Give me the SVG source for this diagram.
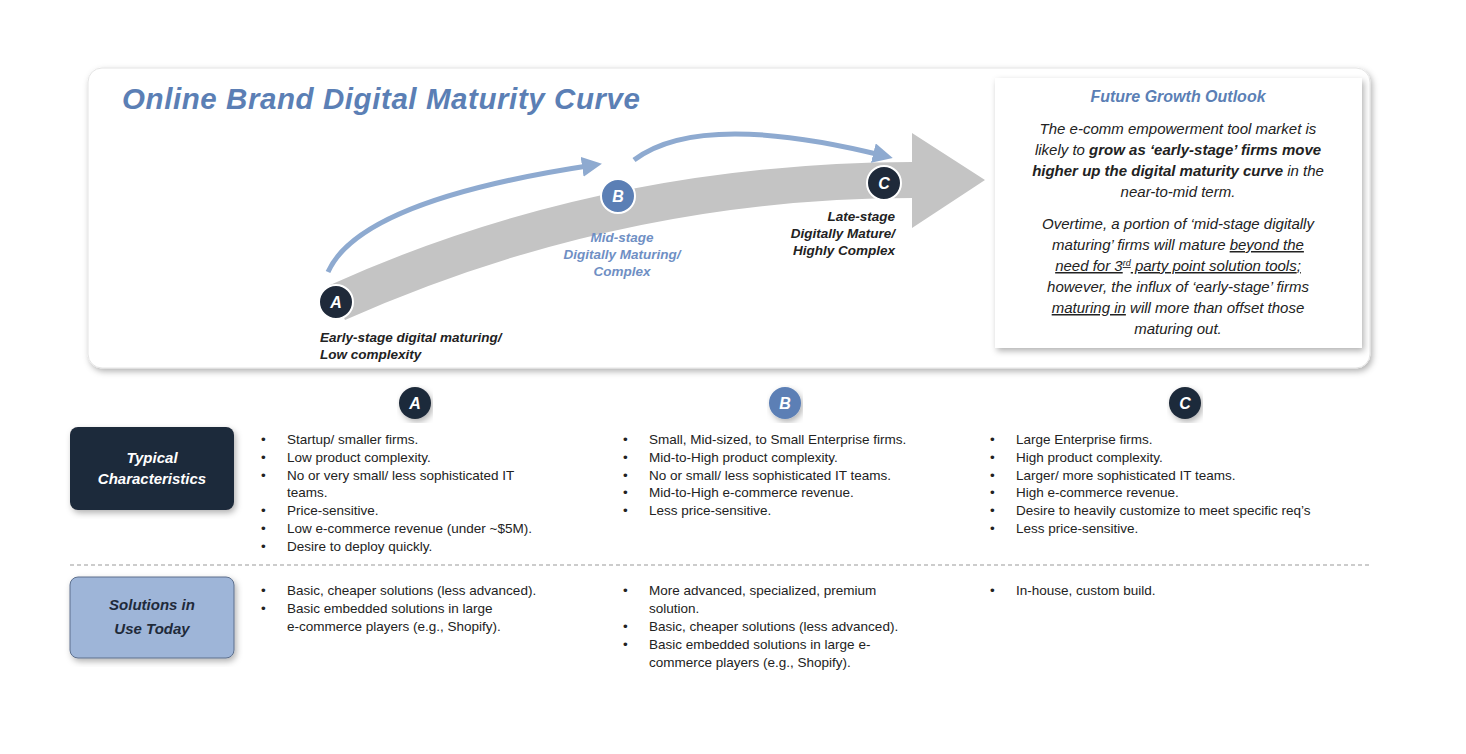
<svg xmlns="http://www.w3.org/2000/svg" width="1466" height="754" viewBox="0 0 1466 754">
<defs>
<filter id="sh" x="-5%" y="-5%" width="110%" height="115%"><feDropShadow dx="2" dy="3" stdDeviation="3" flood-color="#000" flood-opacity="0.3"/></filter>
<marker id="ah" viewBox="0 0 10 10" refX="6" refY="5" markerWidth="4" markerHeight="4" orient="auto"><path d="M0,0 L10,5 L0,10 z" fill="#8eaad0"/></marker>
<style>
text{font-family:"Liberation Sans",Arial,sans-serif}
.t{font-size:13.5px;fill:#222}
.it{font-style:italic;font-weight:bold;font-size:13.5px}
.circ{stroke:#fff;stroke-width:2}
.cl{font-size:16px;font-weight:bold;font-style:italic;fill:#fff;text-anchor:middle}
.fo{font-size:15px;font-style:italic;fill:#222;text-anchor:middle}
</style>
</defs>
<rect width="1466" height="754" fill="#fff"/>
<g id="panel"><rect x="88" y="68" width="1282" height="300" rx="14" fill="#fff" stroke="#e4e4e4" filter="url(#sh)"/></g>
<text x="122" y="109" font-size="29.5" font-weight="bold" font-style="italic" fill="#5b7fb5" textLength="518">Online Brand Digital Maturity Curve</text>
<g id="curve">
<path d="M330,285 Q600,163 912,162 L912,133 L985,180 L912,228 L912,198 Q620,198 345,320 Z" fill="#c4c4c4"/>
</g>
<g id="connectors" fill="none" stroke="#8eaad0" stroke-width="5" marker-end="url(#ah)">
<path d="M328,272 Q360,200 594,165"/>
<path d="M634,160 Q700,110 885,156"/>
</g>
<g id="nodeA"><circle cx="336" cy="302" r="17" fill="#1f2a3a" class="circ"/><text x="336" y="308" class="cl">A</text>
<text x="320" y="342" class="it" fill="#222">Early-stage digital maturing/</text><text x="320" y="359" class="it" fill="#222">Low complexity</text></g>
<g id="nodeB"><circle cx="618" cy="196" r="17" fill="#5b7fb5" class="circ"/><text x="618" y="202" class="cl">B</text>
<g class="it" fill="#6f8fc4" text-anchor="middle"><text x="622" y="242">Mid-stage</text><text x="622" y="259">Digitally Maturing/</text><text x="622" y="276">Complex</text></g></g>
<g id="nodeC"><circle cx="884" cy="183" r="17" fill="#1f2a3a" class="circ"/><text x="884" y="189" class="cl">C</text>
<g class="it" fill="#222" text-anchor="end"><text x="895" y="221">Late-stage</text><text x="895" y="238">Digitally Mature/</text><text x="895" y="255">Highly Complex</text></g></g>
<g id="outlook"><rect x="995" y="78" width="367" height="270" fill="#fff" filter="url(#sh)"/>
<text x="1178" y="102" font-size="16" font-weight="bold" font-style="italic" fill="#5b7fb5" text-anchor="middle">Future Growth Outlook</text>
<text x="1178" y="134" class="fo">The e-comm empowerment tool market is</text>
<text x="1178" y="155" class="fo">likely to <tspan font-weight="bold">grow as ‘early-stage’ firms move</tspan></text>
<text x="1178" y="176" class="fo"><tspan font-weight="bold">higher up the digital maturity curve</tspan> in the</text>
<text x="1178" y="197" class="fo">near-to-mid term.</text>
<text x="1178" y="229" class="fo">Overtime, a portion of ‘mid-stage digitally</text>
<text x="1178" y="250" class="fo">maturing’ firms will mature <tspan text-decoration="underline">beyond the</tspan></text>
<text x="1178" y="271" class="fo" text-decoration="underline">need for 3<tspan font-size="9" baseline-shift="super">rd</tspan> party point solution tools<tspan text-decoration="none">;</tspan></text>
<text x="1178" y="292" class="fo">however, the influx of ‘early-stage’ firms</text>
<text x="1178" y="313" class="fo"><tspan text-decoration="underline">maturing in</tspan> will more than offset those</text>
<text x="1178" y="334" class="fo">maturing out.</text></g>
<g id="hA"><circle cx="415" cy="403" r="16" fill="#1f2a3a" filter="url(#sh)"/><text x="415" y="409" class="cl">A</text></g>
<g id="hB"><circle cx="785" cy="403" r="16" fill="#5b7fb5" filter="url(#sh)"/><text x="785" y="409" class="cl">B</text></g>
<g id="hC"><circle cx="1185" cy="403" r="16" fill="#1f2a3a" filter="url(#sh)"/><text x="1185" y="409" class="cl">C</text></g>
<g id="rowTypical"><rect x="70" y="427" width="164" height="83" rx="8" fill="#1f2a3a" filter="url(#sh)"/>
<text x="152" y="463" font-size="15" font-weight="bold" font-style="italic" fill="#fff" text-anchor="middle">Typical</text>
<text x="152" y="484" font-size="15" font-weight="bold" font-style="italic" fill="#fff" text-anchor="middle">Characteristics</text></g>
<g id="rowSolutions"><rect x="70" y="577" width="164" height="81" rx="8" fill="#9eb5d8" stroke="#5c6f8c" filter="url(#sh)"/>
<text x="152" y="610" font-size="15" font-weight="bold" font-style="italic" fill="#1f2a3a" text-anchor="middle">Solutions in</text>
<text x="152" y="634" font-size="15" font-weight="bold" font-style="italic" fill="#1f2a3a" text-anchor="middle">Use Today</text></g>
<line x1="70" y1="565" x2="1370" y2="565" stroke="#999" stroke-dasharray="4,3"/>
<g class="t">
<text x="261" y="444">•</text><text x="287" y="444">Startup/ smaller firms.</text>
<text x="261" y="462">•</text><text x="287" y="462">Low product complexity.</text>
<text x="261" y="480">•</text><text x="287" y="480">No or very small/ less sophisticated IT</text>
<text x="287" y="497">teams.</text>
<text x="261" y="515">•</text><text x="287" y="515">Price-sensitive.</text>
<text x="261" y="533">•</text><text x="287" y="533">Low e-commerce revenue (under ~$5M).</text>
<text x="261" y="551">•</text><text x="287" y="551">Desire to deploy quickly.</text>
<text x="623" y="444">•</text><text x="649" y="444">Small, Mid-sized, to Small Enterprise firms.</text>
<text x="623" y="462">•</text><text x="649" y="462">Mid-to-High product complexity.</text>
<text x="623" y="480">•</text><text x="649" y="480">No or small/ less sophisticated IT teams.</text>
<text x="623" y="497">•</text><text x="649" y="497">Mid-to-High e-commerce revenue.</text>
<text x="623" y="515">•</text><text x="649" y="515">Less price-sensitive.</text>
<text x="990" y="444">•</text><text x="1016" y="444">Large Enterprise firms.</text>
<text x="990" y="462">•</text><text x="1016" y="462">High product complexity.</text>
<text x="990" y="480">•</text><text x="1016" y="480">Larger/ more sophisticated IT teams.</text>
<text x="990" y="497">•</text><text x="1016" y="497">High e-commerce revenue.</text>
<text x="990" y="515">•</text><text x="1016" y="515">Desire to heavily customize to meet specific req’s</text>
<text x="990" y="533">•</text><text x="1016" y="533">Less price-sensitive.</text>
<text x="261" y="595">•</text><text x="287" y="595">Basic, cheaper solutions (less advanced).</text>
<text x="261" y="613">•</text><text x="287" y="613">Basic embedded solutions in large</text>
<text x="287" y="631">e-commerce players (e.g., Shopify).</text>
<text x="623" y="595">•</text><text x="649" y="595">More advanced, specialized, premium</text>
<text x="649" y="613">solution.</text>
<text x="623" y="631">•</text><text x="649" y="631">Basic, cheaper solutions (less advanced).</text>
<text x="623" y="649">•</text><text x="649" y="649">Basic embedded solutions in large e-</text>
<text x="649" y="667">commerce players (e.g., Shopify).</text>
<text x="990" y="595">•</text><text x="1016" y="595">In-house, custom build.</text>
</g>
</svg>
